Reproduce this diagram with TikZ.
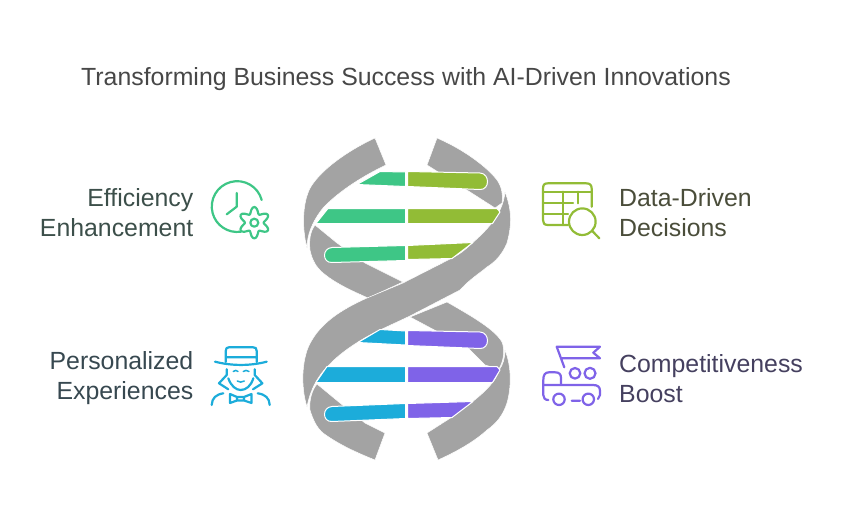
\documentclass[tikz,border=0pt]{standalone}
\usepackage{fontspec}
\setmainfont{Liberation Sans}
\usetikzlibrary{positioning}
\definecolor{strandgray}{HTML}{A3A3A3}
\definecolor{mint}{HTML}{3EC686}
\definecolor{olive}{HTML}{92BC36}
\definecolor{skyblue}{HTML}{1CACDA}
\definecolor{violet}{HTML}{7F63E8}
\definecolor{mintdark}{HTML}{3C4F4A}
\definecolor{olivedark}{HTML}{4A4D3A}
\definecolor{skydark}{HTML}{374850}
\definecolor{violetdark}{HTML}{45405F}
\tikzset{
  strand/.style={fill=strandgray,draw=white,line width=0.5pt,line join=round},
  rung/.style={draw=white,line width=1pt,line join=round},
  icon/.style={line width=2.2pt,line cap=round,line join=round},
  label/.style={font=\fontsize{24.85}{30}\selectfont,inner sep=0pt},
  leftlabel/.style={label,align=right,anchor=east},
  rightlabel/.style={label,align=left,anchor=west},
}
\begin{document}
\begin{tikzpicture}[x=1pt,y=-1pt]
  \useasboundingbox (0,0) rectangle (843,524);
  \node[label,anchor=base west,text=black!72] (title) at (81,86) {Transforming Business Success with AI-Driven Innovations};
  % grey ribbons
  \path[strand] (375,138) .. controls (345,152) and (322,170) .. (312,185) .. controls (303,198) and (301,225) .. (307,248)
    .. controls (307,235) and (312,222) .. (323,208) .. controls (340,190) and (365,175) .. (386,165) -- cycle;
  \path[strand] (315,225) .. controls (310,232) and (309,240) .. (310,250) .. controls (312,260) and (316,267) .. (323,273)
    .. controls (335,283) and (350,290) .. (368,298) -- (403,282) -- (365,263) -- (337,243) -- cycle;
  \path[strand] (437,138) .. controls (465,150) and (488,168) .. (497,180) .. controls (502,187) and (503,195) .. (502,203)
    -- (495,208) -- (470,192) -- (427,165) -- cycle;
  \path[strand] (410,317) -- (447,302) .. controls (475,318) and (495,330) .. (502,342) .. controls (505,350) and (504,360) .. (499,369)
    -- (485,365) -- (468,348) -- (440,333) -- cycle;
  \path[strand] (505,192) .. controls (512,210) and (512,225) .. (507,243) .. controls (502,255) and (495,262) .. (487,267)
    .. controls (480,273) and (470,279) .. (460,290) -- (410,316) -- (380,330) .. controls (355,342) and (338,355) .. (327,367)
    .. controls (318,376) and (310,390) .. (307,407) .. controls (300,385) and (302,355) .. (312,340)
    .. controls (322,323) and (340,310) .. (367,298) -- (403,283) -- (452,258) .. controls (460,254) and (465,250) .. (470,245)
    .. controls (485,232) and (503,215) .. (505,192) -- cycle;
  \path[strand] (505,350) .. controls (511,365) and (512,385) .. (507,403) .. controls (503,415) and (497,423) .. (487,430)
    .. controls (475,441) and (458,451) .. (438,460) -- (427,433) -- (452,417) -- (472,402) .. controls (485,392) and (497,380) .. (499,370)
    .. controls (503,365) and (505,358) .. (505,350) -- cycle;
  \path[strand] (385,433) -- (365,423) -- (340,403) -- (317,384) .. controls (312,390) and (309,400) .. (310,410)
    .. controls (313,420) and (317,428) .. (323,433) .. controls (338,444) and (355,452) .. (375,460) -- cycle;
  % upper rungs
  \path[rung,fill=mint] (380,171.5) -- (405.5,172) -- (405.5,186.5) -- (357,184.5) -- cycle;
  \path[rung,fill=olive] (407.5,171.5) -- (480,173) .. controls (490,173.5) and (490,190) .. (480,189.5) -- (407.5,186.5) -- cycle;
  \path[rung,fill=mint] (328,208.5) -- (405.5,208.5) -- (405.5,223.5) -- (316,223.5) -- cycle;
  \path[rung,fill=olive] (407.5,208.5) -- (497,208.5) -- (500,212) -- (492.5,223.5) -- (407.5,223.5) -- cycle;
  \path[rung,fill=mint] (405.5,245.5) -- (332,247.5) .. controls (322,248) and (322,263) .. (332,262.5) -- (405.5,260.5) -- cycle;
  \path[rung,fill=olive] (407.5,245.5) -- (473,242.5) -- (452,258.5) -- (407.5,259.5) -- cycle;
  % lower rungs
  \path[rung,fill=skyblue] (380,329.5) -- (405.5,331) -- (405.5,345) -- (358,342.5) -- cycle;
  \path[rung,fill=violet] (407.5,330.5) -- (480,332) .. controls (490,332.5) and (490,349) .. (480,348.5) -- (407.5,345.5) -- cycle;
  \path[rung,fill=skyblue] (327,366.5) -- (405.5,366.5) -- (405.5,382.5) -- (316,382.5) -- cycle;
  \path[rung,fill=violet] (407.5,366.5) -- (497,366.5) -- (500,370) -- (492.5,382.5) -- (407.5,382.5) -- cycle;
  \path[rung,fill=skyblue] (405.5,403.5) -- (332,406.5) .. controls (322,407) and (322,422) .. (332,421.5) -- (405.5,418.5) -- cycle;
  \path[rung,fill=violet] (407.5,403.5) -- (473,401.5) -- (452,417.5) -- (407.5,418.5) -- cycle;
  % labels
  \node[leftlabel,text=mintdark] (efficiency) at (193.5,213) {Efficiency\\Enhancement};
  \node[rightlabel,text=olivedark] (datadriven) at (619,213) {Data-Driven\\Decisions};
  \node[leftlabel,text=skydark] (personal) at (193.5,378.5) {Personalized\\Experiences};
  \node[rightlabel,text=violetdark] (boost) at (619,378.5) {Competitiveness\\Boost};
  % clock and gear
  \draw[icon,mint] (261.7,200) arc[start angle=-15,end angle=-278,radius=25.4];
  \draw[icon,mint] (236.7,193) -- (236.7,206.7) -- (226.7,214.3);
  \draw[icon,mint,shift={(254.3,222.7)}] plot[smooth cycle,domain=0:354,samples=60] (\x:{12.5+3.2*cos(6*(\x-90))});
  \draw[icon,mint] (254.3,222.7) circle[radius=4];
  % table and lens
  \draw[icon,olive] (568,225) -- (548,225) .. controls (544,225) and (543,223) .. (543,220) -- (543,189)
    .. controls (543,185) and (544,183.3) .. (548,183.3) -- (586,183.3) .. controls (590,183.3) and (591.7,185) .. (591.7,189) -- (591.7,206.7);
  \draw[icon,olive] (543,191.7) -- (591.7,191.7) (543,203.3) -- (573,203.3) (543,214.3) -- (568,214.3)
    (563.3,191.7) -- (563.3,225) (578.3,191.7) -- (578.3,203.3);
  \draw[icon,olive] (582.3,221.7) circle[radius=13.3] (592.3,231) -- (599.3,238.3);
  % person with hat
  \draw[icon,skyblue] (225.7,362) -- (225.7,351) .. controls (225.7,348) and (227,347.3) .. (229,347.3) -- (253,347.3)
    .. controls (255.5,347.3) and (256.7,348) .. (256.7,351) -- (256.7,362) (225.7,357.3) -- (256.7,357.3);
  \draw[icon,skyblue] (215,361.7) .. controls (232,366) and (250,366) .. (266.7,361.7);
  \draw[icon,skyblue] (226.7,369.3) -- (226.7,375) -- (219,383.3) -- (228.3,389.3) (254.7,369.3) -- (254.7,375) -- (262.4,383.3) -- (253,389.3);
  \draw[icon,skyblue] (228.3,378.3) .. controls (231,386) and (236,390) .. (240.7,390) .. controls (246,390) and (251,386) .. (253.3,378.3);
  \draw[icon,skyblue,line width=1.5pt] (233.3,371.5) .. controls (235,370) and (236.5,370) .. (238,371.5) (243.3,371.5) .. controls (245,370) and (247,370) .. (249,371.5)
    (237.3,381) .. controls (239,382.5) and (242,382.5) .. (244.3,381);
  \draw[icon,skyblue] (211.7,405) .. controls (212,398) and (216,394.5) .. (223.3,393.3) (269.7,405) .. controls (269.4,398) and (265.4,394.5) .. (257.7,393.3);
  \draw[icon,skyblue] (230,394) -- (237,397) -- (244,397) -- (251.5,394) -- (251.5,403) -- (244,400.5) -- (237,400.5) -- (230,403) -- cycle
    (237,397) -- (237,400.5) (244,397) -- (244,400.5);
  % truck with flag
  \draw[icon,violet] (564.3,367.3) -- (556.7,346.7) -- (600,346.7) -- (593.3,352.7) -- (600,358.3) -- (561,358.3);
  \draw[icon,violet] (575,373.3) circle[radius=5.3] (590,373.3) circle[radius=5.5];
  \draw[icon,violet] (548.3,400) .. controls (545,400) and (543.3,398) .. (543.3,395) -- (543.3,380) .. controls (543.3,375) and (545,372.3) .. (549,372.3)
    -- (555,372.3) .. controls (559,372.3) and (561,374) .. (561,378) -- (561,385);
  \draw[icon,violet] (543.3,385) -- (593,385) .. controls (598,385) and (600,387) .. (600,391) -- (600,395) -- (598,399);
  \draw[icon,violet] (559,399.3) circle[radius=5.7] (588.3,399.3) circle[radius=5.7] (571.7,400.7) -- (580,400.7);
\end{tikzpicture}
\end{document}
